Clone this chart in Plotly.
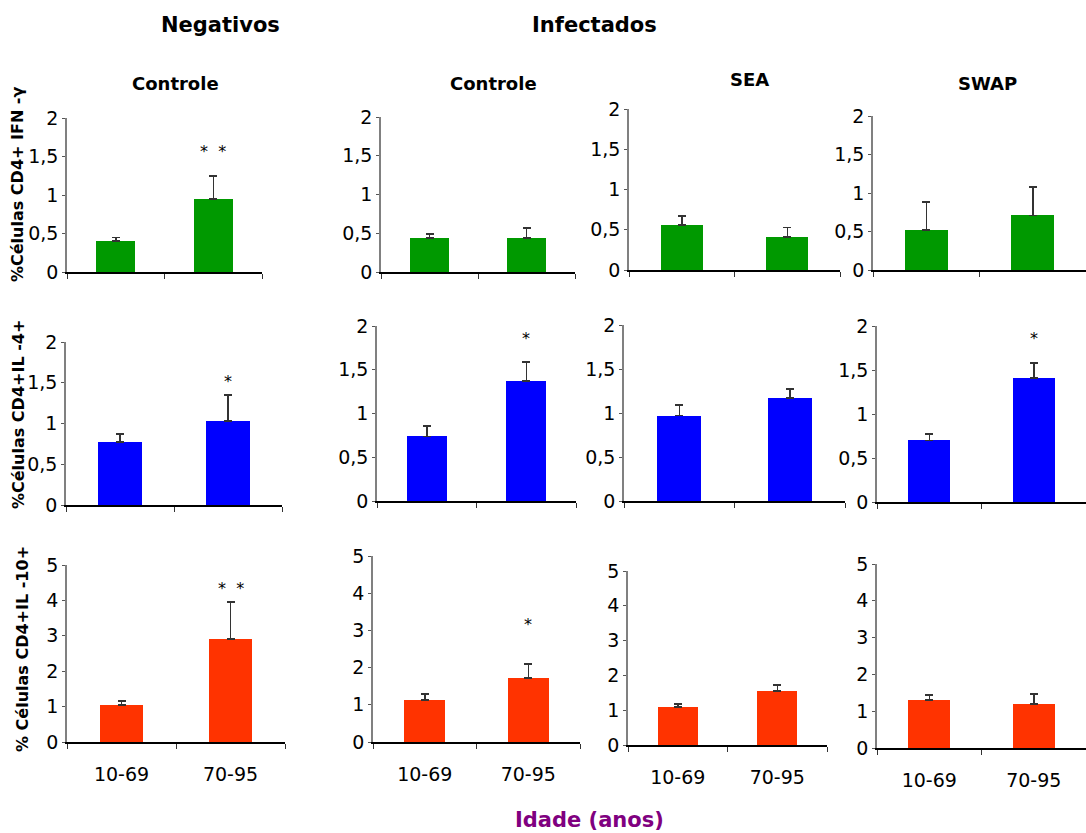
import plotly.graph_objects as go

W, H = 1086, 833

categories = ["10-69", "70-95"]
col_titles = ["Controle", "Controle", "SEA", "SWAP"]
row_titles = ["%Células CD4+ IFN -γ", "%Células CD4+IL -4+", "% Células CD4+IL -10+"]
row_colors = ["#009900", "#0000FF", "#FF3300"]

# means per row (IFN-γ, IL-4, IL-10), per column (Neg Controle, Inf Controle, SEA, SWAP)
ifn_means = [[0.40, 0.95], [0.44, 0.44], [0.56, 0.41], [0.52, 0.71]]
ifn_err = [[0.05, 0.30], [0.05, 0.13], [0.11, 0.12], [0.36, 0.37]]
il4_means = [[0.77, 1.03], [0.74, 1.37], [0.97, 1.17], [0.70, 1.41]]
il4_err = [[0.10, 0.32], [0.12, 0.22], [0.12, 0.10], [0.07, 0.17]]
il10_means = [[1.05, 2.91], [1.13, 1.72], [1.09, 1.55], [1.30, 1.20]]
il10_err = [[0.11, 1.04], [0.16, 0.38], [0.09, 0.17], [0.14, 0.27]]

# significance marks: (row, col, bar index, text, y value)
stars = [(0, 0, 1, "*  *", 1.57), (1, 0, 1, "*", 1.51), (1, 1, 1, "*", 1.86),
         (1, 3, 1, "*", 1.86), (2, 0, 1, "*  *", 4.35), (2, 1, 1, "*", 3.15)]

ytick_vals_small = [0, 0.5, 1, 1.5, 2]
ytick_text_small = ["0", "0,5", "1", "1,5", "2"]
ytick_vals_big = [0, 1, 2, 3, 4, 5]
ytick_text_big = ["0", "1", "2", "3", "4", "5"]

means = [ifn_means, il4_means, il10_means]
errs = [ifn_err, il4_err, il10_err]

# panel pixel boxes: (x_left, x_right, y_top, y_zero)
boxes = [
    [(67, 262, 118, 272), (381, 575, 117, 272), (629, 840, 109, 270), (873, 1086, 116, 270)],
    [(66, 282, 342, 505), (377, 576, 326, 501), (624, 845, 325, 501), (877, 1086, 326, 502)],
    [(67, 285, 565, 742), (373, 580, 556, 742), (628, 827, 571, 745), (877, 1086, 564, 748)],
]

fig = go.Figure()
font_family = "DejaVu Sans, Arial, sans-serif"
xpos = [0.5, 1.5]

layout = {}
annotations = []
n = 0
for r in range(3):
    for c in range(4):
        n += 1
        xa = "x" if n == 1 else f"x{n}"
        ya = "y" if n == 1 else f"y{n}"
        xl, xr, yt, yz = boxes[r][c]
        fig.add_trace(go.Bar(
            x=xpos, y=means[r][c], width=0.4,
            marker=dict(color=row_colors[r], line=dict(width=0)),
            error_y=dict(type="data", array=errs[r][c], arrayminus=[0, 0],
                         symmetric=False, color="#333333", thickness=1.5, width=4),
            xaxis=xa, yaxis=ya, showlegend=False, hoverinfo="skip",
        ))
        bottom = (r == 2)
        layout["xaxis" if n == 1 else f"xaxis{n}"] = dict(
            domain=[xl / W, min(xr / W, 1.0)], anchor=ya, range=[0, 2],
            tickvals=xpos, ticktext=categories if bottom else ["", ""],
            showticklabels=bottom, ticks="", ticklen=0,
            ticklabelstandoff=14, automargin=False,
            minor=dict(tickvals=[0, 1, 2], ticks="outside", ticklen=5,
                       tickcolor="#333333", tickwidth=1.2),
            showline=True, linecolor="#000000", linewidth=1.5,
            showgrid=False, zeroline=False, fixedrange=True,
            tickfont=dict(family=font_family, size=19, color="#000"),
        )
        big = (r == 2)
        layout["yaxis" if n == 1 else f"yaxis{n}"] = dict(
            domain=[1 - yz / H, 1 - yt / H], anchor=xa,
            range=[0, 5] if big else [0, 2],
            tickvals=ytick_vals_big if big else ytick_vals_small,
            ticktext=ytick_text_big if big else ytick_text_small,
            ticks="outside", ticklen=3, tickcolor="#555555", tickwidth=1,
            showline=True, linecolor="#808080", linewidth=1.5, automargin=False,
            showgrid=False, zeroline=False, fixedrange=True,
            tickfont=dict(family=font_family, size=19, color="#000"),
        )
        for (sr, sc, bi, txt, yv) in stars:
            if sr == r and sc == c:
                annotations.append(dict(
                    x=xpos[bi], y=yv, xref=xa, yref=ya, text=txt, showarrow=False,
                    font=dict(family=font_family, size=16, color="#000"),
                    xanchor="center", yanchor="middle"))

# column / group titles
title_font = dict(family=font_family, size=21, color="#000")
sub_font = dict(family=font_family, size=18, color="#000")
annotations += [
    dict(x=220 / W, y=1 - 25 / H, text="<b>Negativos</b>", font=title_font),
    dict(x=594 / W, y=1 - 25 / H, text="<b>Infectados</b>", font=title_font),
]
col_title_pos = [(175, 83), (493, 83), (749, 80), (987, 83)]
for (px, py), t in zip(col_title_pos, col_titles):
    annotations.append(dict(x=px / W, y=1 - py / H, text=f"<b>{t}</b>", font=sub_font))

row_title_pos = [(18, 185), (18, 415), (22, 649)]
for (px, py), t in zip(row_title_pos, row_titles):
    annotations.append(dict(x=px / W, y=1 - py / H, text=f"<b>{t}</b>", textangle=-90,
                            font=dict(family=font_family, size=16, color="#000")))

annotations.append(dict(x=589 / W, y=1 - 820 / H, text="<b>Idade (anos)</b>",
                        font=dict(family=font_family, size=21, color="#800080")))

for a in annotations:
    if "xref" not in a:
        a.update(xref="paper", yref="paper", showarrow=False,
                 xanchor="center", yanchor="middle")

fig.update_layout(
    template="none",
    width=W, height=H, margin=dict(l=0, r=0, t=0, b=0, autoexpand=False),
    paper_bgcolor="white", plot_bgcolor="white",
    annotations=annotations, bargap=0, **layout,
)

fig.write_html(
    "out.html",
    config={"displayModeBar": False},
    post_script="document.body.style.margin='0px';document.body.style.overflow='hidden';",
)
